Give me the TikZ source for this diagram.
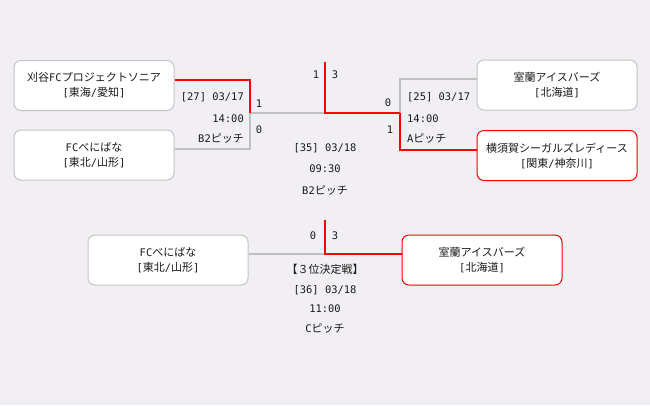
\documentclass[tikz,border=0pt]{standalone}
\usepackage{fontspec}
\setmainfont{Noto Sans CJK JP}
\newfontfamily\latfont{DejaVu Sans Mono}[Scale=0.95]
\newcommand\latn[1]{{\latfont #1}}
\usetikzlibrary{calc}
\definecolor{bg}{HTML}{F1EFF3}
\definecolor{boxline}{HTML}{C4C4C4}
\definecolor{lose}{HTML}{C0C0C0}
\definecolor{win}{HTML}{FF0000}
\definecolor{txt}{HTML}{1A1A1A}
\begin{document}
\begin{tikzpicture}[x=1pt,y=-1pt,
 team/.style={draw=boxline, fill=white, rounded corners=7pt, minimum width=160pt, minimum height=50pt, align=center, font=\fontsize{11}{15}\selectfont, text=txt, inner sep=0pt, line width=1pt},
 wteam/.style={team, draw=win},
 winline/.style={draw=win, line width=2pt},
 loseline/.style={draw=lose, line width=2pt},
 lbl/.style={font=\fontsize{11}{13}\selectfont, text=txt, inner sep=0pt},
]
\fill[bg] (0,0) rectangle (650,405);
\useasboundingbox (0,0) rectangle (650,405);

% teams
\node[team]  (b1) at (94,85.5)  {刈谷\latn{FC}プロジェクトソニア\\\latn{[}東海\latn{/}愛知\latn{]}};
\node[team]  (b2) at (94,155)   {\latn{FC}べにばな\\\latn{[}東北\latn{/}山形\latn{]}};
\node[team]  (b3) at (557,85)   {室蘭アイスバーズ\\\latn{[}北海道\latn{]}};
\node[wteam] (b4) at (557,155.5){横須賀シーガルズレディース\\\latn{[}関東\latn{/}神奈川\latn{]}};
\node[team]  (b5) at (168,260)  {\latn{FC}べにばな\\\latn{[}東北\latn{/}山形\latn{]}};
\node[wteam] (b6) at (482,260)  {室蘭アイスバーズ\\\latn{[}北海道\latn{]}};

% junctions
\coordinate (j1) at (250,113);
\coordinate (j2) at (400,113);
\coordinate (c1) at (325,113);
\coordinate (t1) at (325,62);
\coordinate (c2) at (325,254);
\coordinate (t2) at (325,220);

% connectors
\draw[loseline] ([yshift=6pt]b2.east) -| (j1);
\draw[loseline] (j1) -- (c1);
\draw[loseline] (j2) |- ([yshift=6pt]b3.west);
\draw[winline] ([yshift=6pt]b1.east) -| (j1);
\draw[winline] (t1) -- (c1) -- (j2);
\draw[winline] (j2) |- ([yshift=6pt]b4.west);
\draw[loseline] ([yshift=6pt]b5.east) -- (c2);
\draw[winline] (t2) -- (c2) -- ([yshift=6pt]b6.west);

% scores
\node[lbl] (s1) at (259,104) {\latn{1}};
\node[lbl] (s2) at (259,130) {\latn{0}};
\node[lbl] (s3) at (316,75) {\latn{1}};
\node[lbl] (s4) at (335,75) {\latn{3}};
\node[lbl] (s5) at (388,103) {\latn{0}};
\node[lbl] (s6) at (390,130) {\latn{1}};
\node[lbl] (s7) at (313,236) {\latn{0}};
\node[lbl] (s8) at (335,236) {\latn{3}};

% match info left
\node[lbl, anchor=east] (m1a) at (244,97)  {\latn{[27] 03/17}};
\node[lbl, anchor=east] (m1b) at (244,119) {\latn{14:00}};
\node[lbl, anchor=east] (m1c) at (244,138) {\latn{B2}ピッチ};
% match info right
\node[lbl, anchor=west] (m2a) at (407,97)  {\latn{[25] 03/17}};
\node[lbl, anchor=west] (m2b) at (407,119) {\latn{14:00}};
\node[lbl, anchor=west] (m2c) at (407,138) {\latn{A}ピッチ};
% final
\node[lbl] (m3a) at (325,148) {\latn{[35] 03/18}};
\node[lbl] (m3b) at (325,169) {\latn{09:30}};
\node[lbl] (m3c) at (325,190) {\latn{B2}ピッチ};
% third place
\node[lbl] (m4a) at (325,269) {【３位決定戦】};
\node[lbl] (m4b) at (325,290) {\latn{[36] 03/18}};
\node[lbl] (m4c) at (325,309) {\latn{11:00}};
\node[lbl] (m4d) at (325,328) {\latn{C}ピッチ};
\end{tikzpicture}
\end{document}
